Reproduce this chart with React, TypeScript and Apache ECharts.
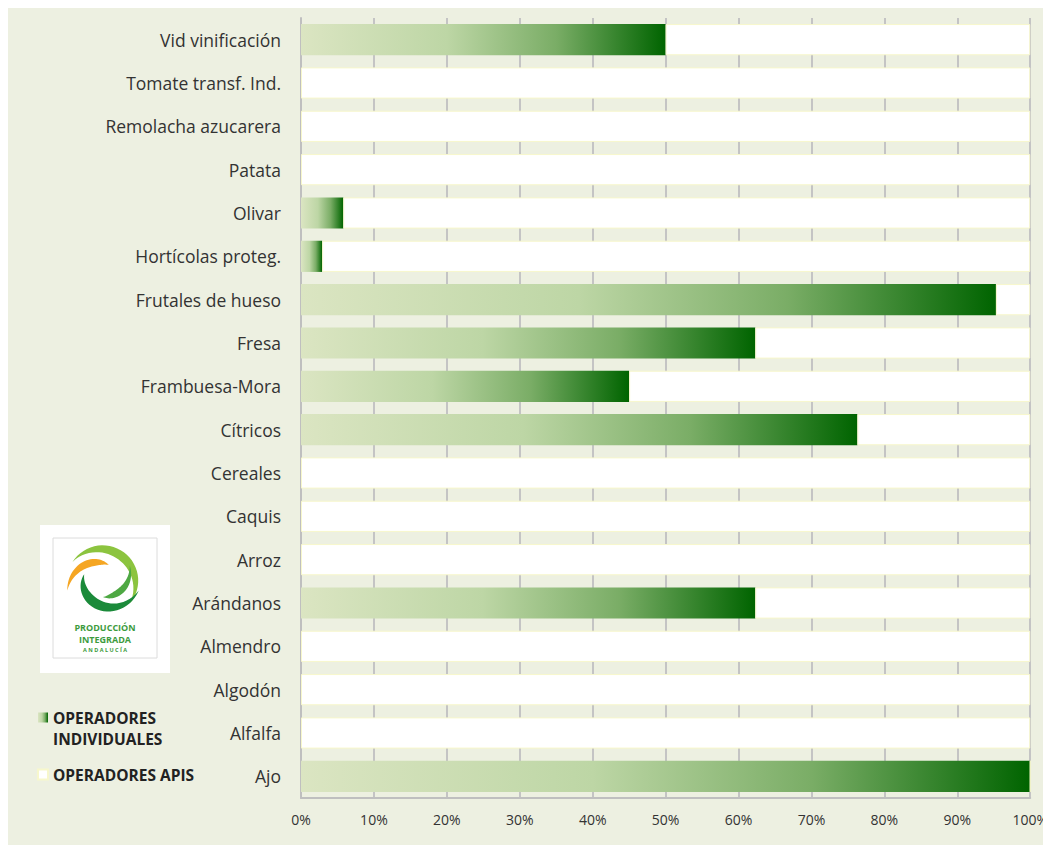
import React, { useEffect, useRef } from "react";
import * as echarts from "echarts";

const categories = [
  "Ajo", "Alfalfa", "Algodón", "Almendro", "Arándanos", "Arroz", "Caquis", "Cereales",
  "Cítricos", "Frambuesa-Mora", "Fresa", "Frutales de hueso", "Hortícolas proteg.",
  "Olivar", "Patata", "Remolacha azucarera", "Tomate transf. Ind.", "Vid vinificación",
];
const individuales = [100, 0, 0, 0, 62.3, 0, 0, 0, 76.3, 45, 62.3, 95.3, 2.9, 5.8, 0, 0, 0, 50];
const apis = individuales.map((v) => +(100 - v).toFixed(1));
const xTicks = [0, 10, 20, 30, 40, 50, 60, 70, 80, 90, 100];

function crescent(cx: number, cy: number, a1: number, a2: number, r1: number, r2: number, w: number) {
  const n = 30;
  const outer: number[][] = [];
  const inner: number[][] = [];
  for (let i = 0; i <= n; i++) {
    const t = i / n;
    const a = ((a1 + (a2 - a1) * t) * Math.PI) / 180;
    const r = r1 + (r2 - r1) * t;
    const th = w * Math.sin(Math.PI * t);
    outer.push([cx + r * Math.cos(a), cy + r * Math.sin(a)]);
    inner.push([cx + (r - th) * Math.cos(a), cy + (r - th) * Math.sin(a)]);
  }
  return outer.concat(inner.reverse());
}

export default function App() {
  const ref = useRef<HTMLDivElement>(null);
  useEffect(() => {
    const chart = echarts.init(ref.current!, null, { renderer: "svg" });
    const cx = 95, cy = 573;
    const logoText = (t: string, y: number, size: number) => ({
      type: "text", x: 97, y,
      style: { text: t, fill: "#3d9b3d", font: `bold ${size}px 'Open Sans'`, textAlign: "center", textVerticalAlign: "middle" },
    });
    chart.setOption({
      animation: false,
      backgroundColor: "#edf0e1",
      grid: { left: 293, right: 20, top: 10, bottom: 47 },
      legend: {
        orient: "vertical",
        left: 24,
        top: 673,
        itemWidth: 10,
        itemHeight: 10,
        itemGap: 15,
        icon: "rect",
        data: ["OPERADORES INDIVIDUALES", "OPERADORES APIS"],
        formatter: (n: string) => (n === "OPERADORES INDIVIDUALES" ? "\nOPERADORES\nINDIVIDUALES" : n),
        textStyle: { fontFamily: "Open Sans", fontWeight: "bold", fontSize: 15.5, color: "#222", lineHeight: 21 },
      },
      xAxis: {
        type: "value",
        min: 0,
        max: 100,
        interval: 10,
        axisLine: { show: true, lineStyle: { color: "#bfbfbf", width: 2 } },
        axisTick: { show: false },
        splitLine: { show: true, lineStyle: { color: "#c4c4c4", width: 2 } },
        axisLabel: {
          formatter: (v: number) => (xTicks.includes(v) ? v + "%" : ""),
          fontFamily: "Open Sans",
          fontSize: 14,
          color: "#333",
          margin: 14,
        },
      },
      yAxis: {
        type: "category",
        data: categories,
        axisLine: { show: true, lineStyle: { color: "#bfbfbf", width: 2 } },
        axisTick: { show: false },
        axisLabel: { fontFamily: "Open Sans", fontSize: 17.5, color: "#333", margin: 20 },
      },
      series: [
        {
          name: "OPERADORES INDIVIDUALES",
          type: "bar",
          stack: "total",
          barCategoryGap: "28%",
          data: individuales,
          itemStyle: {
            color: new echarts.graphic.LinearGradient(0, 0, 1, 0, [
              { offset: 0, color: "#dbe5c2" },
              { offset: 0.4, color: "#bdd6a5" },
              { offset: 0.7, color: "#7aad66" },
              { offset: 1, color: "#006400" },
            ]),
          },
        },
        {
          name: "OPERADORES APIS",
          type: "bar",
          stack: "total",
          barCategoryGap: "28%",
          data: apis,
          itemStyle: { color: "#ffffff", borderColor: "#f7f7cc", borderWidth: 1 },
        },
      ],
      graphic: [
        { type: "rect", shape: { x: 32, y: 517, width: 130, height: 148 }, style: { fill: "#ffffff" } },
        { type: "rect", shape: { x: 45, y: 530, width: 104, height: 120 }, style: { fill: "none", stroke: "#dcdcdc", lineWidth: 1 } },
        { type: "polygon", shape: { points: crescent(cx, cy, 212, 400, 36, 35, 9) }, style: { fill: "#8cc43f" } },
        { type: "polygon", shape: { points: crescent(cx, cy, 330, 450, 31, 16, 7) }, style: { fill: "#4ea843" } },
        { type: "polygon", shape: { points: crescent(cx, cy, 200, 15, 20, 37, 10) }, style: { fill: "#1b8a3a" } },
        { type: "polygon", shape: { points: crescent(cx, cy, 290, 165, 17, 37, 8) }, style: { fill: "#f5a623" } },
        logoText("PRODUCCIÓN", 619.5, 9),
        logoText("INTEGRADA", 631, 9),
        logoText("A N D A L U C Í A", 641.5, 5.5),
      ],
    });
    return () => chart.dispose();
  }, []);
  return <div ref={ref} style={{ width: 1043, height: 837 }} />;
}
